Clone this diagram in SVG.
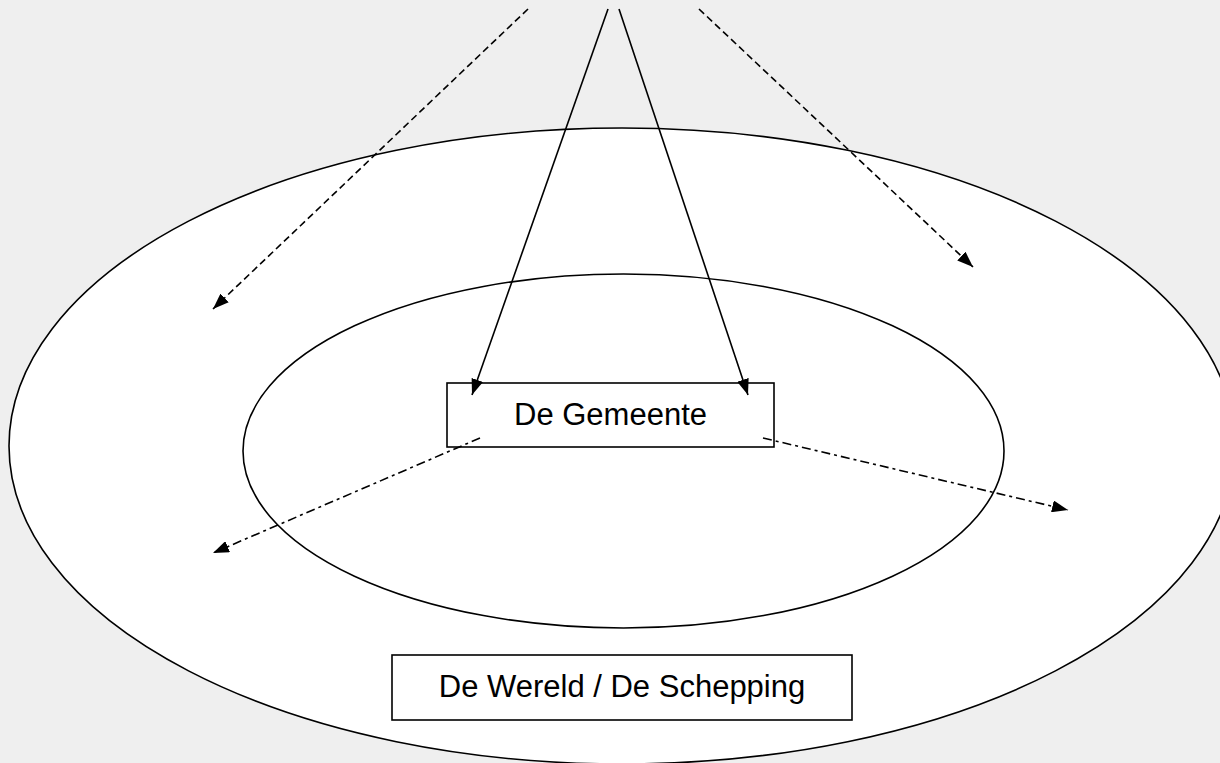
<svg xmlns="http://www.w3.org/2000/svg" width="1220" height="763" viewBox="0 0 1220 763">
  <defs>
    <marker id="ah" viewBox="0 0 16 12" refX="16" refY="6" markerWidth="16" markerHeight="12" markerUnits="userSpaceOnUse" orient="auto">
      <path d="M0,0 L16,6 L0,12 Z" fill="#000"/>
    </marker>
    <style>
      .shape { fill: #fff; stroke: #000; stroke-width: 1.6; }
      .lbl { font-family: "Liberation Sans", Arial, sans-serif; font-size: 31px; fill: #000; text-anchor: middle; }
      .conn { fill: none; stroke: #000; stroke-width: 1.6; marker-end: url(#ah); }
      .dash { stroke-dasharray: 7 4; }
      .dashdot { stroke-dasharray: 9 4 3 4; }
    </style>
  </defs>
  <rect x="0" y="0" width="1220" height="763" fill="#efefef"/>
  <g id="world">
    <ellipse class="shape" cx="622" cy="446" rx="613" ry="318"/>
  </g>
  <g id="church-area">
    <ellipse class="shape" cx="623.5" cy="451" rx="380.5" ry="177"/>
  </g>
  <g id="gemeente">
    <rect class="shape" x="447" y="383" width="327" height="64"/>
    <text class="lbl" x="610.5" y="425">De Gemeente</text>
  </g>
  <g id="wereld">
    <rect class="shape" x="392" y="655" width="460" height="65"/>
    <text class="lbl" x="622" y="697">De Wereld / De Schepping</text>
  </g>
  <g id="connectors">
    <line class="conn" x1="608" y1="9" x2="472" y2="395"/>
    <line class="conn" x1="619" y1="9" x2="748" y2="395"/>
    <line class="conn dash" x1="528" y1="9" x2="213" y2="309"/>
    <line class="conn dash" x1="699" y1="9" x2="973" y2="267"/>
    <line class="conn dashdot" x1="480" y1="438" x2="213" y2="553"/>
    <line class="conn dashdot" x1="763" y1="438" x2="1068" y2="510"/>
  </g>
</svg>
